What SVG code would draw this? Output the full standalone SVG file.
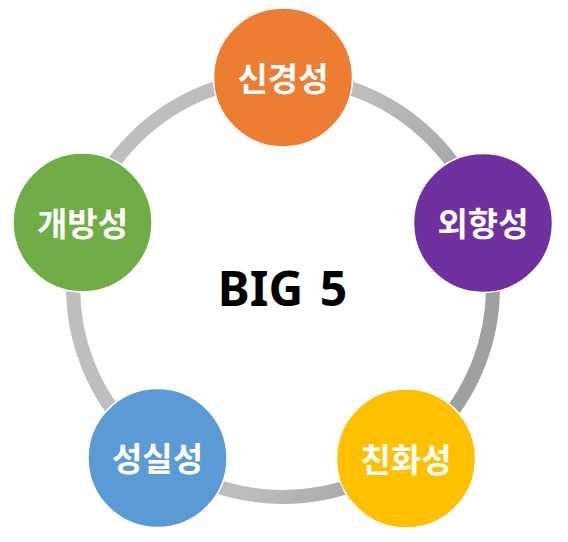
<svg xmlns="http://www.w3.org/2000/svg" width="568" height="542" viewBox="0 0 568 542">
<style>
.node circle{stroke:#fff;stroke-width:1.5}
.lbl{font-family:"Noto Sans CJK KR","Malgun Gothic",sans-serif;font-weight:700;font-size:33px;fill:#fff;text-anchor:middle;dominant-baseline:central}
.title{font-family:"Noto Sans","Noto Sans CJK KR",sans-serif;font-weight:700;font-size:48px;fill:#000;text-anchor:middle;word-spacing:4px}
</style>
<defs>
<linearGradient id="ringg" x1="0" y1="0" x2="1" y2="0.3">
<stop offset="0" stop-color="#bfbfbf"/>
<stop offset="0.65" stop-color="#bdbdbd"/>
<stop offset="1" stop-color="#a0a0a0"/>
</linearGradient>
</defs>
<g id="connectors">
<circle cx="283" cy="287" r="210" fill="none" stroke="url(#ringg)" stroke-width="14"/>
</g>
<g id="n1" class="node"><circle cx="283" cy="77.5" r="69.5" fill="#ed7d31"/><text class="lbl" x="283" y="77">신경성</text></g>
<g id="n2" class="node"><circle cx="483" cy="223" r="69.5" fill="#7030a0"/><text class="lbl" x="483" y="222">외향성</text></g>
<g id="n3" class="node"><circle cx="406" cy="458.5" r="69.5" fill="#ffc000"/><text class="lbl" x="406" y="458">친화성</text></g>
<g id="n4" class="node"><circle cx="157.5" cy="458" r="69.5" fill="#5b9bd5"/><text class="lbl" x="157.5" y="457">성실성</text></g>
<g id="n5" class="node"><circle cx="82.5" cy="222.5" r="69.5" fill="#70ad47"/><text class="lbl" x="82.5" y="222">개방성</text></g>
<text class="title" x="282.5" y="306">BIG 5</text>
</svg>
